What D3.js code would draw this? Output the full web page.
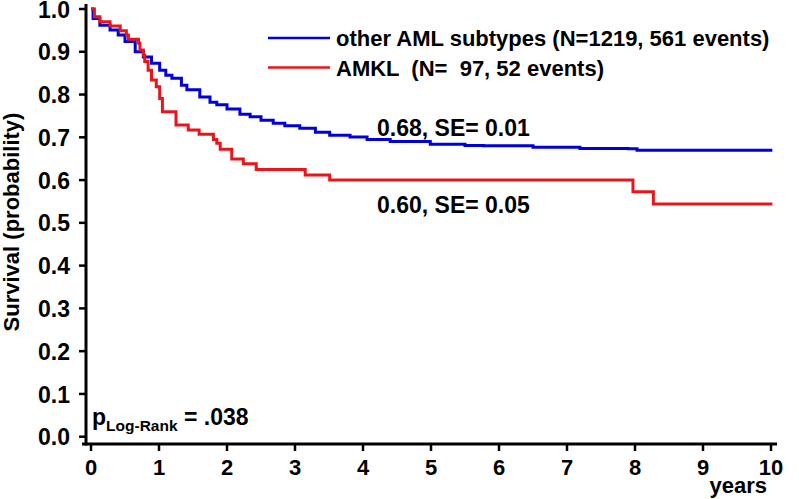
<!DOCTYPE html>
<html><head><meta charset="utf-8">
<script src="https://cdn.jsdelivr.net/npm/d3@7"></script>
<style>
html,body{margin:0;padding:0;background:#fff;}
text{font-family:"Liberation Sans",Arial,Helvetica,sans-serif;font-weight:bold;fill:#000;}
</style></head>
<body>
<svg id="chart" width="799" height="499"></svg>
<script>
// Kaplan-Meier data (years, survival probability)
const otherTimes = [0,0.03,0.13,0.28,0.40,0.50,0.65,0.77,0.89,1.01,1.10,1.19,1.33,1.41,1.60,1.75,1.85,2.00,2.19,2.34,2.50,2.68,2.85,3.07,3.30,3.51,3.81,4.06,4.40,4.99,5.50,5.77,6.50,7.19,7.90,8.03,10.02];
const otherSurv  = [1.0,0.978,0.962,0.951,0.939,0.924,0.900,0.888,0.873,0.857,0.845,0.838,0.822,0.811,0.794,0.782,0.776,0.766,0.754,0.748,0.740,0.733,0.727,0.721,0.712,0.705,0.701,0.695,0.690,0.684,0.681,0.680,0.677,0.674,0.673,0.670,0.670];
const amklTimes = [0,0.05,0.13,0.28,0.43,0.52,0.55,0.70,0.72,0.77,0.79,0.84,0.89,0.96,1.01,1.05,1.25,1.43,1.59,1.80,1.85,1.90,2.07,2.24,2.43,3.15,3.51,7.97,8.27,10.02];
const amklSurv  = [1.0,0.982,0.970,0.960,0.949,0.939,0.929,0.920,0.904,0.892,0.877,0.857,0.834,0.818,0.791,0.760,0.729,0.717,0.707,0.695,0.686,0.672,0.649,0.638,0.625,0.612,0.600,0.573,0.544,0.544];

const seriesNames = ["other AML subtypes (N=1219, 561 events)", "AMKL  (N=  97, 52 events)"];
const seriesColors = ["#0000dd", "#e8161b"];
const xTicks = [0,1,2,3,4,5,6,7,8,9,10];
const yTicks = [0,0.1,0.2,0.3,0.4,0.5,0.6,0.7,0.8,0.9,1.0];
const annotationLabels = ["0.68, SE= 0.01", "0.60, SE= 0.05"];

const svg = d3.select("#chart");
const x = d3.scaleLinear().domain([0,10]).range([91,771]);
const y = d3.scaleLinear().domain([0,1]).range([436.7,9]);
const axisY = 444, axisX = 86;

// axes lines
svg.append("line").attr("x1",82).attr("x2",777).attr("y1",axisY).attr("y2",axisY)
  .attr("stroke","#000").attr("stroke-width",3);
svg.append("line").attr("x1",axisX).attr("x2",axisX).attr("y1",4).attr("y2",axisY+1.5)
  .attr("stroke","#000").attr("stroke-width",3);

// y ticks
const yg = svg.append("g");
yTicks.forEach(v=>{
  yg.append("line").attr("x1",79).attr("x2",axisX).attr("y1",y(v)).attr("y2",y(v))
    .attr("stroke","#000").attr("stroke-width",2.5);
  yg.append("text").attr("x",70).attr("y",y(v)+8.6).attr("text-anchor","end")
    .style("font-size","23px").text(d3.format(".1f")(v));
});
// x ticks
const xg = svg.append("g");
xTicks.forEach(v=>{
  xg.append("line").attr("x1",x(v)).attr("x2",x(v)).attr("y1",axisY).attr("y2",axisY+7)
    .attr("stroke","#000").attr("stroke-width",2.5);
  xg.append("text").attr("x",x(v)).attr("y",475).attr("text-anchor","middle")
    .style("font-size","22px").text(v);
});
svg.append("text").attr("x",767).attr("y",493).attr("text-anchor","end")
  .style("font-size","22px").text("years");

// y axis title
svg.append("text").attr("transform","translate(19,222) rotate(-90)")
  .attr("text-anchor","middle").style("font-size","22px").text("Survival (probability)");

// curves
const line = d3.line().x(d=>x(d[0])).y(d=>y(d[1])).curve(d3.curveStepAfter);
const data = [d3.zip(otherTimes, otherSurv), d3.zip(amklTimes, amklSurv)];
data.forEach((d,i)=>{
  svg.append("path").datum(d).attr("d",line).attr("fill","none")
    .attr("stroke",seriesColors[i]).attr("stroke-width",3).attr("stroke-linejoin","miter");
});

// legend
seriesNames.forEach((n,i)=>{
  const ly = 38 + i*29.5;
  svg.append("line").attr("x1",268).attr("x2",330).attr("y1",ly).attr("y2",ly)
    .attr("stroke",seriesColors[i]).attr("stroke-width",2.5);
  svg.append("text").attr("x",336).attr("y",ly+8).style("font-size","22px")
    .attr("xml:space","preserve").style("white-space","pre").text(n);
});

// annotations
svg.append("text").attr("x",377).attr("y",136).style("font-size","23px").text(annotationLabels[0]);
svg.append("text").attr("x",377).attr("y",213).style("font-size","23px").text(annotationLabels[1]);

// p-value
const pt = svg.append("text").attr("x",92).attr("y",425).style("font-size","23px");
pt.append("tspan").text("p");
pt.append("tspan").attr("dy",6).style("font-size","15.5px").text("Log-Rank");
pt.append("tspan").attr("dy",-6).text(" = .038");
</script>
</body></html>
